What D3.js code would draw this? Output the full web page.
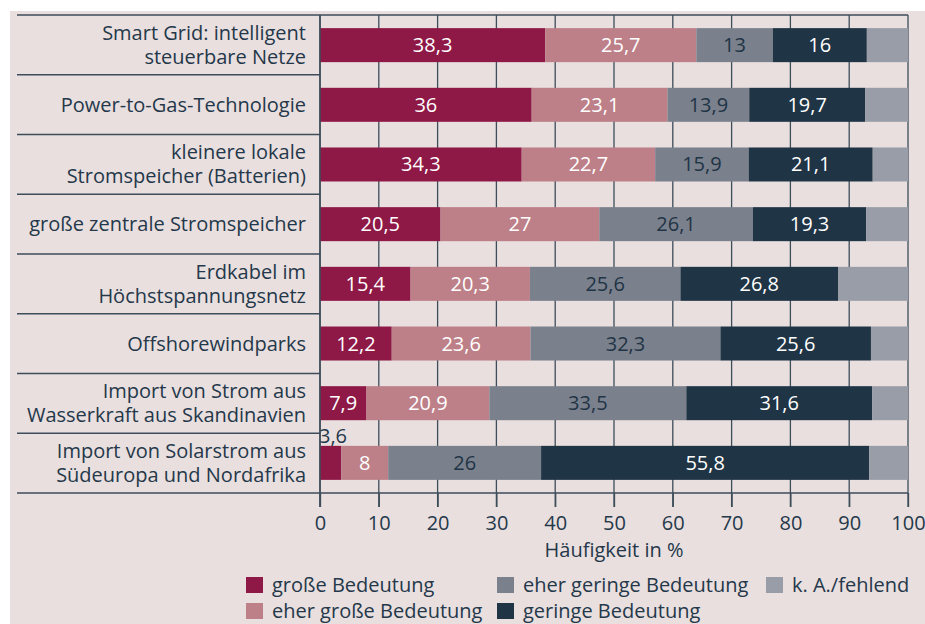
<!DOCTYPE html>
<html>
<head>
<meta charset="utf-8">
<script src="https://cdn.jsdelivr.net/npm/d3@7"></script>
<style>
  html, body { margin: 0; padding: 0; background: #ffffff; }
  svg { display: block; }
  text { font-family: "Open Sans", "Noto Sans", sans-serif; }
</style>
</head>
<body>
<svg id="chart" width="925" height="624"></svg>
<script>
const categories = [
  ["Smart Grid: intelligent", "steuerbare Netze"],
  ["Power-to-Gas-Technologie"],
  ["kleinere lokale", "Stromspeicher (Batterien)"],
  ["große zentrale Stromspeicher"],
  ["Erdkabel im", "Höchstspannungsnetz"],
  ["Offshorewindparks"],
  ["Import von Strom aus", "Wasserkraft aus Skandinavien"],
  ["Import von Solarstrom aus", "Südeuropa und Nordafrika"]
];
const seriesNames = ["große Bedeutung", "eher große Bedeutung", "eher geringe Bedeutung", "geringe Bedeutung", "k. A./fehlend"];
const grosse      = [38.3, 36, 34.3, 20.5, 15.4, 12.2, 7.9, 3.6];
const eherGrosse  = [25.7, 23.1, 22.7, 27, 20.3, 23.6, 20.9, 8];
const eherGering  = [13, 13.9, 15.9, 26.1, 25.6, 32.3, 33.5, 26];
const gering      = [16, 19.7, 21.1, 19.3, 26.8, 25.6, 31.6, 55.8];
const keineAngabe = [7, 7.3, 6, 7.1, 11.9, 6.3, 6.1, 6.6];
const xTicks = [0, 10, 20, 30, 40, 50, 60, 70, 80, 90, 100];
const xTitle = "Häufigkeit in %";

const colors = ["#8e1846", "#bd7f88", "#7a808c", "#1f3445", "#999da7"];
const labelColors = ["#ffffff", "#ffffff", "#1f3445", "#ffffff", null];
const ink = "#24384a";
const lineCol = "#3d4d5a";
const FS = 20;

const svg = d3.select("#chart");
svg.append("rect").attr("x", 10).attr("y", 11).attr("width", 915).attr("height", 613).attr("fill", "#e9dfdf");

const x = d3.scaleLinear().domain([0, 100]).range([320, 908]);
const y = d3.scaleBand().domain(d3.range(categories.length)).range([15, 493]).paddingInner(0.43).paddingOuter(0.22);
const yRow = d3.scaleBand().domain(d3.range(categories.length)).range([15, 493]);

const loc = d3.formatLocale({decimal: ",", thousands: ".", grouping: [3], currency: ["", " €"]});
const fmt = v => loc.format(",")(v);

const seriesArrays = [grosse, eherGrosse, eherGering, gering, keineAngabe];
const rows = categories.map((c, i) => {
  let acc = 0;
  return seriesArrays.map((arr, s) => {
    const seg = {row: i, s, v: arr[i], x0: acc, x1: acc + arr[i]};
    acc += arr[i];
    return seg;
  });
});

// vertical grid lines
svg.append("g").selectAll("line").data(xTicks).join("line")
  .attr("x1", d => x(d)).attr("x2", d => x(d))
  .attr("y1", 15).attr("y2", 507)
  .attr("stroke", lineCol).attr("stroke-width", 1.3);

// horizontal separators (label area)
const seps = d3.range(categories.length + 1).map(i => i < categories.length ? yRow(i) : yRow(categories.length - 1) + yRow.bandwidth());
svg.append("g").selectAll("line").data(seps).join("line")
  .attr("x1", 17).attr("x2", (d, i) => (i === 0 || i === seps.length - 1) ? 908 : 320)
  .attr("y1", d => d).attr("y2", d => d)
  .attr("stroke", lineCol).attr("stroke-width", 1.3);

// bars
const segs = rows.flat();
svg.append("g").selectAll("rect").data(segs).join("rect")
  .attr("x", d => x(d.x0)).attr("width", d => x(d.x1) - x(d.x0))
  .attr("y", d => y(d.row)).attr("height", y.bandwidth())
  .attr("fill", d => colors[d.s]);

// bar labels
svg.append("g").selectAll("text").data(segs.filter(d => d.s < 4)).join("text")
  .attr("x", d => d.v < 5 ? x(d.x0) - 1 : (x(d.x0) + x(d.x1)) / 2)
  .attr("y", d => d.v < 5 ? y(d.row) - 3 : y(d.row) + y.bandwidth() / 2 + 7)
  .attr("text-anchor", d => d.v < 5 ? "start" : "middle")
  .attr("fill", d => d.v < 5 ? ink : labelColors[d.s])
  .attr("font-size", FS)
  .text(d => fmt(d.v));

// category labels
const catG = svg.append("g");
categories.forEach((lines, i) => {
  const cy = yRow(i) + yRow.bandwidth() / 2;
  lines.forEach((t, j) => {
    catG.append("text")
      .attr("x", 306)
      .attr("y", cy + (j - (lines.length - 1) / 2) * 24 + 7)
      .attr("text-anchor", "end")
      .attr("fill", ink)
      .attr("font-size", FS)
      .text(t);
  });
});

// left axis line
svg.append("line").attr("x1", 320).attr("x2", 320).attr("y1", 15).attr("y2", 507).attr("stroke", lineCol).attr("stroke-width", 1.5);

// x axis
const ax = svg.append("g").attr("transform", "translate(0,493)")
  .call(d3.axisBottom(x).tickValues(xTicks).tickSize(14).tickFormat(d => fmt(d)));
ax.select(".domain").remove();
ax.selectAll(".tick line").attr("stroke", lineCol).attr("stroke-width", 1.3);
ax.selectAll(".tick text").attr("fill", ink).attr("font-size", FS).attr("font-family", "Open Sans, Noto Sans, sans-serif").attr("dy", "1.0em");

svg.append("text").attr("x", x(50)).attr("y", 557).attr("text-anchor", "middle")
  .attr("fill", ink).attr("font-size", FS).text(xTitle);

// legend
const legendPos = [[246, 577], [246, 603], [497, 577], [497, 603], [766, 577]];
const lg = svg.append("g");
seriesNames.forEach((n, i) => {
  const [lx, ly] = legendPos[i];
  lg.append("rect").attr("x", lx).attr("y", ly).attr("width", 17).attr("height", 16).attr("fill", colors[i]);
  lg.append("text").attr("x", lx + 26).attr("y", ly + 15).attr("fill", ink).attr("font-size", FS).text(n);
});
</script>
</body>
</html>
